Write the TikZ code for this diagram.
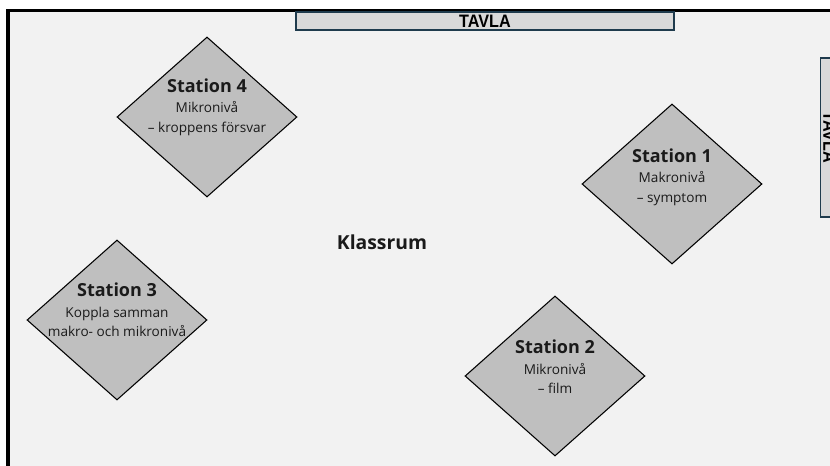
\documentclass[tikz,border=0pt]{standalone}
\usepackage{fontspec}
\setmainfont{Open Sans}
\newfontfamily\boardfont[FakeStretch=0.9]{Liberation Sans}
\usetikzlibrary{shapes.geometric}
\definecolor{roomgray}{HTML}{F2F2F2}
\definecolor{stationgray}{HTML}{BFBFBF}
\definecolor{boardgray}{HTML}{D9D9D9}
\definecolor{boardedge}{HTML}{1F3B4D}
\definecolor{textdark}{HTML}{1A1A1A}
\newcommand\titlefont{\fontsize{13.5}{17}\selectfont\bfseries}

\begin{document}
\begin{tikzpicture}[x=0.75pt, y=-0.75pt,
  stationstyle/.style={diamond, draw=black, line width=0.8pt, fill=stationgray, minimum width=135pt, minimum height=120pt, inner sep=0pt},
  stationtext/.style={align=center, text=textdark, font=\fontsize{10.2}{14.5}\selectfont},
  boardstyle/.style={draw=boardedge, line width=1.1pt, fill=boardgray, inner sep=0pt, font=\boardfont\bfseries\fontsize{13.5}{13.5}\selectfont}]
  \useasboundingbox (0,0) rectangle (830,466);
  \clip (0,0) rectangle (830,466);
  \fill[white] (0,0) rectangle (830,466);
  \draw[line width=2.6pt, fill=roomgray] (8,10.5) rectangle (900,520);

  \node[boardstyle, minimum width=283.5pt, minimum height=13.5pt] (tavlatop) at (485,21) {TAVLA};
  \node[boardstyle, minimum width=119pt, minimum height=13.5pt, rotate=-90] (tavlaright) at (829.5,137.5) {TAVLA};

  \node[stationstyle] (station4) at (207,117) {};
  \node[stationtext] (station4text) at (207,107) {{\titlefont Station 4}\\[1pt] Mikronivå\\ – kroppens försvar};

  \node[stationstyle] (station1) at (672,184) {};
  \node[stationtext] (station1text) at (672,177) {{\titlefont Station 1}\\[1pt] Makronivå\\ – symptom};

  \node[stationstyle] (station3) at (117,320) {};
  \node[stationtext] (station3text) at (117,310) {{\titlefont Station 3}\\[1pt] Koppla samman\\ makro- och mikronivå};

  \node[stationstyle] (station2) at (555,376) {};
  \node[stationtext] (station2text) at (555,367) {{\titlefont Station 2}\\[1pt] Mikronivå\\ – film};

  \node[font=\fontsize{14.5}{17}\selectfont\bfseries, text=textdark] (klassrum) at (382,242) {Klassrum};
\end{tikzpicture}
\end{document}
